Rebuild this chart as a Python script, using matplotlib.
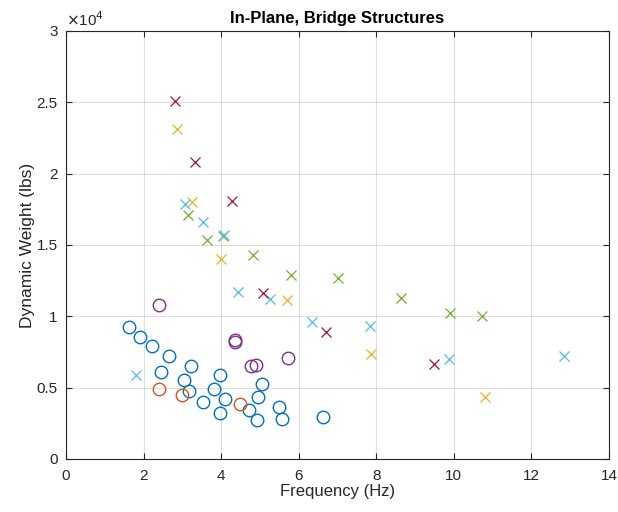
import matplotlib
matplotlib.use('Agg')
import matplotlib.pyplot as plt
from matplotlib.ticker import FuncFormatter

plt.rcParams['font.family'] = ['Liberation Sans', 'DejaVu Sans']

# circles
blue_f = [1.63, 1.90, 2.22, 2.66, 2.46, 3.22, 3.04, 3.18, 3.53, 3.98, 3.82, 4.11, 3.97,
          5.05, 4.96, 4.73, 4.92, 5.50, 5.57, 6.63]
blue_w = [9230, 8550, 7900, 7220, 6080, 6540, 5520, 4750, 3970, 5910, 4910, 4210, 3250,
          5260, 4320, 3460, 2710, 3640, 2780, 2960]
orange_f = [2.40, 2.99, 4.49]
orange_w = [4910, 4510, 3830]
purple_f = [2.41, 4.36, 4.36, 4.77, 4.89, 5.72]
purple_w = [10810, 8320, 8180, 6540, 6610, 7100]

# crosses
yellow_f = [2.87, 3.24, 4.00, 5.71, 7.86, 10.81]
yellow_w = [23110, 17990, 14020, 11120, 7340, 4320]
green_f = [3.15, 3.63, 4.05, 4.81, 5.80, 7.00, 8.65, 9.90, 10.72]
green_w = [17120, 15350, 15610, 14280, 12900, 12690, 11280, 10210, 10000]
ltblue_f = [1.80, 3.08, 3.52, 4.07, 4.44, 5.27, 6.35, 7.83, 9.88, 12.84]
ltblue_w = [5870, 17870, 16610, 15720, 11730, 11240, 9620, 9320, 7030, 7220]
red_f = [2.81, 3.33, 4.28, 5.08, 6.71, 9.48]
red_w = [25110, 20800, 18080, 11610, 8900, 6640]

fig = plt.figure(figsize=(6.18, 5.12), dpi=100)
ax = fig.add_axes([66/618, 1-459/512, (609-66)/618, (459-31)/512])

ckw = dict(linestyle='none', marker='o', markersize=9, markerfacecolor='none', markeredgewidth=1.0)
xkw = dict(linestyle='none', marker='x', markersize=6.5, markeredgewidth=0.9)

ax.plot(blue_f, blue_w, color='#0072BD', **ckw)
ax.plot(orange_f, orange_w, color='#D95319', **ckw)
ax.plot(purple_f, purple_w, color='#7E2F8E', **ckw)
ax.plot(yellow_f, yellow_w, color='#EDB120', **xkw)
ax.plot(green_f, green_w, color='#77AC30', **xkw)
ax.plot(ltblue_f, ltblue_w, color='#4DBEEE', **xkw)
ax.plot(red_f, red_w, color='#A2142F', **xkw)

ax.set_xlim(0, 14)
ax.set_ylim(0, 30000)
ax.set_xticks(range(0, 15, 2))
ax.set_yticks([0, 5000, 10000, 15000, 20000, 25000, 30000])
ax.yaxis.set_major_formatter(FuncFormatter(lambda v, p: f'{v/1e4:g}'))

ax.grid(True, color='#262626', alpha=0.15, linewidth=0.8)
ax.set_axisbelow(True)
for s in ax.spines.values():
    s.set_color('#262626')
    s.set_linewidth(0.8)
ax.tick_params(direction='in', top=True, right=True, labelsize=11, colors='#262626', length=4)
ax.tick_params(axis='x', pad=7)
ax.tick_params(axis='y', pad=6)

ax.set_xlabel('Frequency (Hz)', fontsize=12, color='#262626', labelpad=1)
ax.set_ylabel('Dynamic Weight (lbs)', fontsize=12.5, color='#262626', labelpad=1)
ax.set_title('In-Plane, Bridge Structures', fontsize=12, fontweight='bold', color='black', pad=6)
ax.text(0, 1.005, r'$\times$10$^{4}$', transform=ax.transAxes, fontsize=11,
        color='#262626', ha='left', va='bottom')

fig.savefig('out.png', dpi=100)
